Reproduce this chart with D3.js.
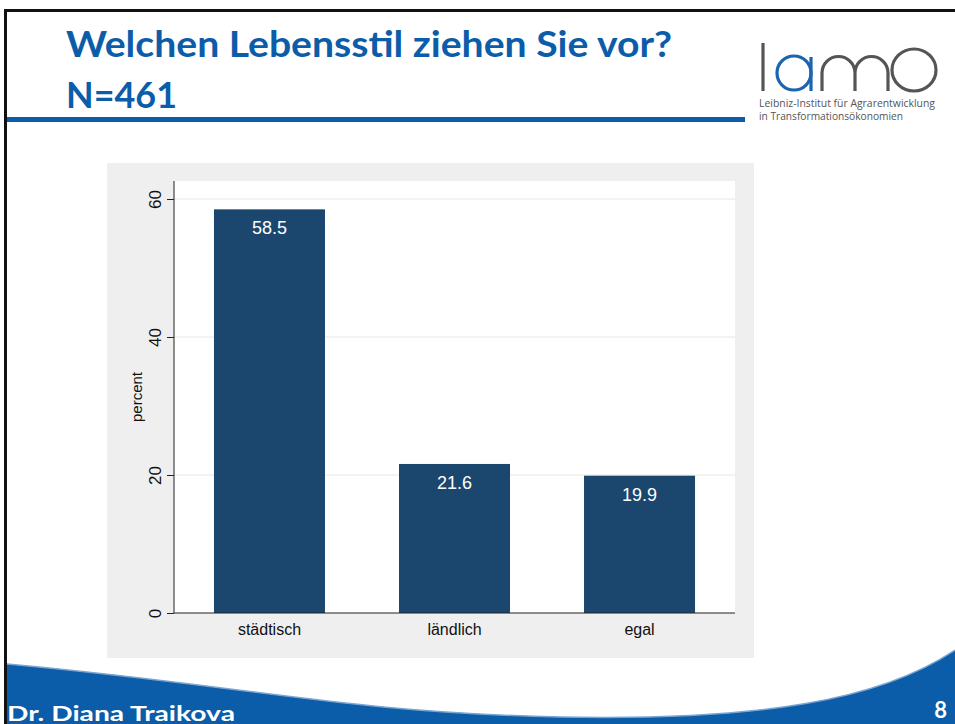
<!DOCTYPE html>
<html lang="de">
<head>
<meta charset="UTF-8" />
<title>Welchen Lebensstil ziehen Sie vor?</title>
<script src="https://d3js.org/d3.v7.min.js"></script>
<style>
  body { margin: 0; background: #fff; }
  svg { display: block; }
  .tick text { font-family: "Liberation Sans", Arial, sans-serif; }
</style>
</head>
<body>
<svg width="955" height="724"></svg>
<script>
// chart data
var categories = ["städtisch", "ländlich", "egal"];
var values = [58.5, 21.6, 19.9];
var yTicks = [0, 20, 40, 60];

var svg = d3.select("svg");
var blue = "#0b5ca9";

// slide frame
svg.append("rect").attr("x", 4).attr("y", 9).attr("width", 951).attr("height", 3).attr("fill", "#111");
svg.append("rect").attr("x", 4).attr("y", 9).attr("width", 3).attr("height", 715).attr("fill", "#111");

// title
svg.append("text")
  .attr("x", 66).attr("y", 57)
  .attr("textLength", 606).attr("lengthAdjust", "spacingAndGlyphs")
  .style("font", "bold 37px Lato, 'Open Sans', sans-serif")
  .attr("fill", blue)
  .text("Welchen Lebensstil ziehen Sie vor?");
svg.append("text")
  .attr("x", 66).attr("y", 108)
  .attr("textLength", 111).attr("lengthAdjust", "spacingAndGlyphs")
  .style("font", "bold 37px Lato, 'Open Sans', sans-serif")
  .attr("fill", blue)
  .text("N=461");
svg.append("rect").attr("x", 7).attr("y", 117).attr("width", 738).attr("height", 5).attr("fill", blue);

// logo
var logo = svg.append("g").attr("fill", "none").attr("stroke-width", 3.2);
logo.append("line").attr("x1", 763).attr("x2", 763).attr("y1", 43).attr("y2", 91).attr("stroke", "#555");
logo.append("circle").attr("cx", 794).attr("cy", 73).attr("r", 17).attr("stroke", "#1b64b0");
logo.append("line").attr("x1", 811).attr("x2", 811).attr("y1", 57).attr("y2", 91).attr("stroke", "#1b64b0");
logo.append("path")
  .attr("d", "M822,91 L822,73 A16.5,16.5 0 0 1 855,73 L855,91 M855,73 A16.5,16.5 0 0 1 888,73 L888,91")
  .attr("stroke", "#555");
logo.append("ellipse").attr("cx", 914).attr("cy", 70).attr("rx", 22).attr("ry", 21).attr("stroke", "#555");
svg.append("text").attr("x", 759).attr("y", 107)
  .attr("textLength", 176).attr("lengthAdjust", "spacingAndGlyphs")
  .style("font", "10.5px 'Open Sans', sans-serif").attr("fill", "#555")
  .text("Leibniz-Institut für Agrarentwicklung");
svg.append("text").attr("x", 759).attr("y", 120)
  .attr("textLength", 144).attr("lengthAdjust", "spacingAndGlyphs")
  .style("font", "10.5px 'Open Sans', sans-serif").attr("fill", "#555")
  .text("in Transformationsökonomien");

// graph region
svg.append("rect").attr("x", 107).attr("y", 163).attr("width", 647).attr("height", 495).attr("fill", "#efefef");
var plot = { left: 174, right: 735, top: 181, bottom: 613 };
svg.append("rect").attr("x", plot.left).attr("y", plot.top)
  .attr("width", plot.right - plot.left).attr("height", plot.bottom - plot.top).attr("fill", "#fff");

var x = d3.scaleBand().domain(categories).range([plot.left, plot.right])
  .paddingInner(0.4).paddingOuter(0.216);
var y = d3.scaleLinear().domain([0, 60]).range([plot.bottom, 199]);

// gridlines
svg.append("g").selectAll("line").data(yTicks.filter(function (d) { return d > 0; }))
  .enter().append("line")
  .attr("x1", plot.left).attr("x2", plot.right)
  .attr("y1", function (d) { return y(d); }).attr("y2", function (d) { return y(d); })
  .attr("stroke", "#e6e6e6").attr("stroke-width", 1);

// bars
svg.append("g").selectAll("rect").data(values).enter().append("rect")
  .attr("x", function (d, i) { return x(categories[i]); })
  .attr("y", function (d) { return y(d); })
  .attr("width", x.bandwidth())
  .attr("height", function (d) { return y(0) - y(d); })
  .attr("fill", "#1b476e");

svg.append("g").selectAll("text").data(values).enter().append("text")
  .attr("x", function (d, i) { return x(categories[i]) + x.bandwidth() / 2; })
  .attr("y", function (d) { return y(d) + 25; })
  .attr("text-anchor", "middle")
  .style("font", "18px 'Liberation Sans', Arial, sans-serif")
  .attr("fill", "#fff")
  .text(function (d) { return d.toFixed(1); });

// y axis
var yAxis = svg.append("g").attr("transform", "translate(" + plot.left + ",0)")
  .call(d3.axisLeft(y).tickValues(yTicks).tickSize(7));
yAxis.select(".domain").attr("d", "M0," + plot.top + "V" + plot.bottom).attr("stroke", "#222");
yAxis.selectAll(".tick line").attr("stroke", "#222");
yAxis.selectAll(".tick text")
  .attr("transform", "rotate(-90)")
  .attr("x", 0).attr("y", -13).attr("dy", null)
  .attr("text-anchor", "middle")
  .style("font-size", "17px").attr("fill", "#111");

// x axis
var xAxis = svg.append("g").attr("transform", "translate(0," + plot.bottom + ")")
  .call(d3.axisBottom(x).tickSize(0).tickPadding(11));
xAxis.select(".domain").attr("d", "M" + plot.left + ",0H" + plot.right).attr("stroke", "#222");
xAxis.selectAll(".tick text").style("font-size", "16px").attr("fill", "#111").attr("dy", "0.71em");

// axis title
svg.append("text")
  .attr("transform", "translate(142," + (plot.top + plot.bottom) / 2 + ") rotate(-90)")
  .attr("text-anchor", "middle")
  .style("font", "15px 'Liberation Sans', Arial, sans-serif")
  .attr("fill", "#111")
  .text("percent");

// footer swoosh
svg.append("path")
  .attr("d", "M7,664 C250,686 340,712 560,717 C760,721 880,700 955,650 L955,724 L7,724 Z")
  .attr("fill", blue);
svg.append("path")
  .attr("d", "M7,664 C250,686 340,712 560,717 C760,721 880,700 955,650")
  .attr("fill", "none").attr("stroke", "#7aa6d3").attr("stroke-width", 1.5);

svg.append("text").attr("x", 7).attr("y", 721)
  .attr("textLength", 228).attr("lengthAdjust", "spacingAndGlyphs")
  .style("font", "bold 21px Lato, 'Open Sans', sans-serif").attr("fill", "#fff")
  .text("Dr. Diana Traikova");
svg.append("text").attr("x", 947).attr("y", 718).attr("text-anchor", "end")
  .style("font", "bold 22px Lato, 'Open Sans', sans-serif").attr("fill", "#fff")
  .text("8");
</script>
</body>
</html>
